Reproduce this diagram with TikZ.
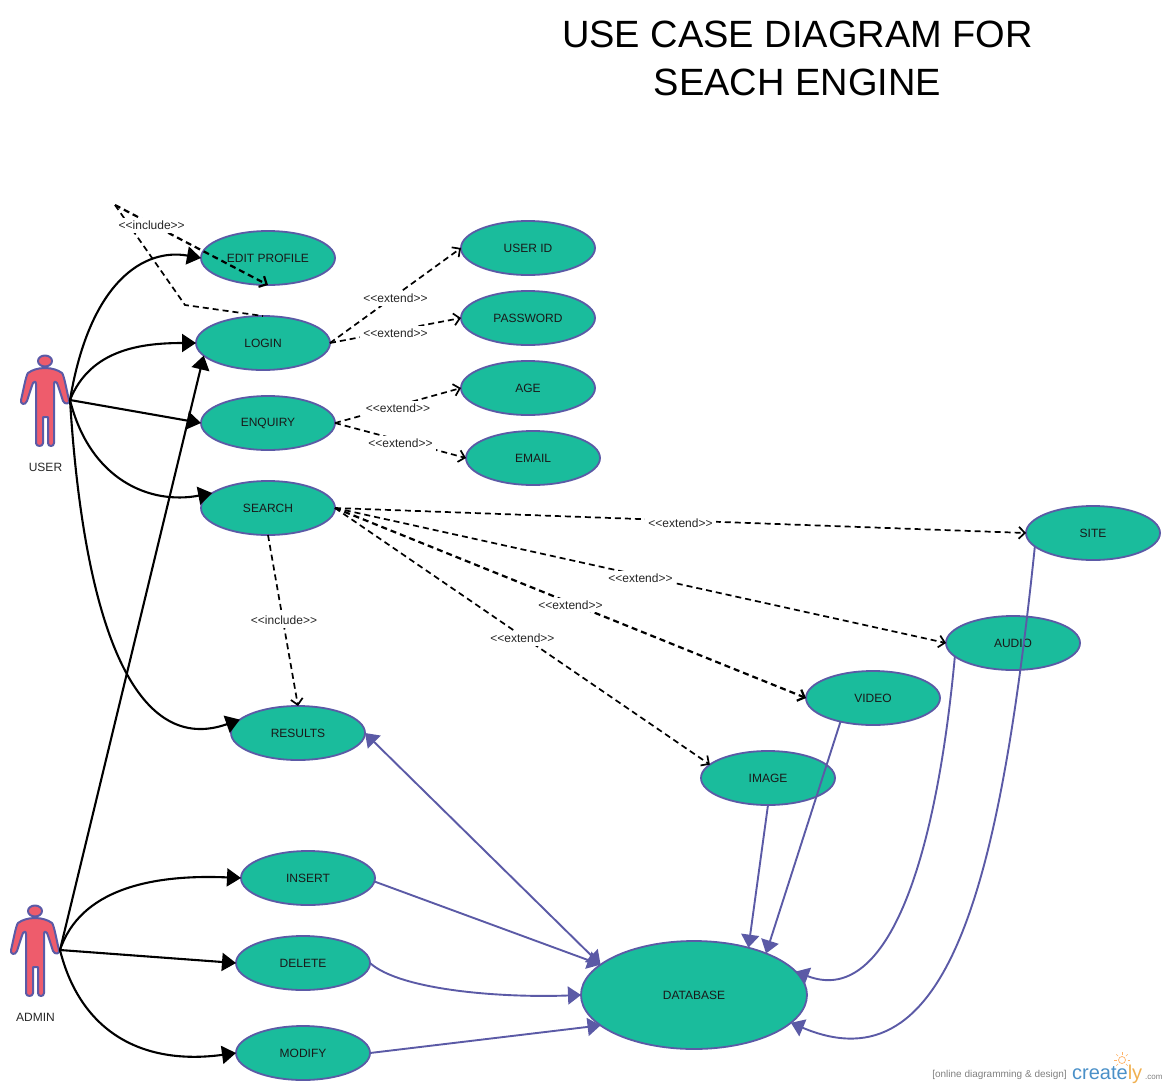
\documentclass[tikz,border=0pt]{standalone}
\usepackage{fontspec}
\setmainfont{Liberation Sans}
\usetikzlibrary{shapes.geometric,arrows.meta}
\definecolor{uc}{HTML}{1ABC9C}
\definecolor{edge}{HTML}{5B5AA6}
\definecolor{fig}{HTML}{EE5C6C}
\newcommand{\incl}{{<}{<}include{>}{>}}
\newcommand{\extd}{{<}{<}extend{>}{>}}
\tikzset{
  usecase/.style={ellipse,draw=edge,fill=uc,line width=1.8pt,minimum width=134pt,minimum height=54pt,inner sep=0pt,outer sep=0pt,font=\fontsize{12}{14}\selectfont,text=black!90},
  assoc/.style={draw=black,line width=2.1pt,-{Triangle[length=14pt,width=18pt]}},
  dep/.style={draw=black,line width=1.7pt,dash pattern=on 6pt off 4pt,-{Straight Barb[length=6pt,width=12pt]}},
  depbold/.style={dep,line width=2.2pt},
  dblink/.style={draw=edge,line width=1.9pt,-{Triangle[length=13pt,width=18pt]}},
  lab/.style={fill=white,inner sep=3pt,font=\fontsize{12}{14}\selectfont,text=black!85},
  actorlabel/.style={font=\fontsize{12}{14}\selectfont,text=black!85},
  actorbody/.style={draw=edge,fill=fig,line width=2pt,line join=round},
}
\newcommand{\actorfig}[1]{%
 \begin{scope}[shift={#1}]
  \path[actorbody] (0,-39) ellipse (7 and 5.5);
  \path[actorbody] (0,-32) .. controls (-7,-32) and (-13,-30) .. (-17,-27)
     .. controls (-19,-25) and (-22,-8) .. (-24,0) .. controls (-25,4) and (-20,6) .. (-18,1)
     .. controls (-16,-5) and (-14,-12) .. (-12,-17) .. controls (-11,-19) and (-9,-19) .. (-9,-16)
     -- (-9,43) .. controls (-9,47) and (-2,47) .. (-2,43) -- (-2,17) -- (3,17) -- (3,43)
     .. controls (3,47) and (9,47) .. (9,43) -- (9,-16) .. controls (9,-19) and (11,-19) .. (12,-17)
     .. controls (14,-12) and (16,-5) .. (18,1) .. controls (20,5) and (25,4) .. (24,0)
     .. controls (22,-8) and (19,-25) .. (17,-27) .. controls (13,-30) and (7,-32) .. (0,-32) -- cycle;
 \end{scope}}
\begin{document}
\begin{tikzpicture}[x=1pt,y=-1pt]
\useasboundingbox (0,0) rectangle (1170,1090);
\node[font=\fontsize{38}{48}\selectfont,align=center,text=black] (title) at (797.5,58) {USE CASE DIAGRAM FOR\\SEACH ENGINE};

\actorfig{(45,400)}
\actorfig{(35,950)}
\coordinate (user) at (70,400);
\coordinate (admin) at (60,950);
\coordinate (free) at (115,205);
\coordinate (bend) at (185,305);
\node[actorlabel] (userlab) at (45.5,467.5) {USER};
\node[actorlabel] (adminlab) at (35.5,1017.5) {ADMIN};

\node[usecase] (edit) at (268,258) {EDIT PROFILE};
\node[usecase] (login) at (263,343) {LOGIN};
\node[usecase] (enquiry) at (268,423) {ENQUIRY};
\node[usecase] (search) at (268,508) {SEARCH};
\node[usecase] (userid) at (528,248) {USER ID};
\node[usecase] (password) at (528,318) {PASSWORD};
\node[usecase] (age) at (528,388) {AGE};
\node[usecase] (email) at (533,458) {EMAIL};
\node[usecase] (site) at (1093,533) {SITE};
\node[usecase] (audio) at (1013,643) {AUDIO};
\node[usecase] (video) at (873,698) {VIDEO};
\node[usecase] (image) at (768,778) {IMAGE};
\node[usecase] (results) at (298,733) {RESULTS};
\node[usecase] (insert) at (308,878) {INSERT};
\node[usecase] (delete) at (303,963) {DELETE};
\node[usecase] (modify) at (303,1053) {MODIFY};
\node[usecase,minimum width=226pt,minimum height=108pt] (db) at (694,995) {DATABASE};

% actor associations
\draw[assoc] (user) .. controls (90,280) and (145,248) .. (edit.west);
\draw[assoc] (user) .. controls (90,350) and (140,343) .. (login.west);
\draw[assoc] (user) -- (enquiry.west);
\draw[assoc] (user) .. controls (90,480) and (150,505) .. (search.165);
\draw[assoc] (user) .. controls (85,640) and (140,755) .. (results.167);
\draw[assoc] (admin) -- (login.192);
\draw[assoc] (admin) .. controls (80,890) and (150,874) .. (insert.west);
\draw[assoc] (admin) -- (delete.west);
\draw[assoc] (admin) .. controls (80,1030) and (140,1066) .. (modify.west);

% dependencies
\draw[dep,-] (free) -- (bend) -- (login.north);
\draw[depbold] (free) -- node[lab,pos=.24,yshift=-1pt] {\incl} (edit.south);
\draw[dep] (login.east) -- node[lab,yshift=-3pt] {\extd} (userid.west);
\draw[dep] (login.east) -- node[lab,yshift=-3pt] {\extd} (password.west);
\draw[dep] (enquiry.east) -- node[lab,yshift=-3pt] {\extd} (age.west);
\draw[dep] (enquiry.east) -- node[lab,yshift=-3pt] {\extd} (email.west);
\draw[dep] (search.east) -- node[lab,yshift=-3pt] {\extd} (site.west);
\draw[dep] (search.east) -- node[lab,yshift=-3pt] {\extd} (audio.west);
\draw[depbold] (search.east) -- node[lab,yshift=-2pt] {\extd} (video.west);
\draw[dep] (search.east) -- node[lab,yshift=-2pt] {\extd} (image.167);
\draw[dep] (search.south) -- node[lab,xshift=1pt] {\incl} (results.north);

% database links
\draw[dblink,{Triangle[length=13pt,width=18pt]}-{Triangle[length=13pt,width=18pt]}] (results.east) -- (db.162);
\draw[dblink] (insert.-3) -- (db.162);
\draw[dblink] (delete.east) .. controls (400,990) and (500,998) .. (db.west);
\draw[dblink] (modify.east) -- (db.198);
\draw[dblink] (image.south) -- (db.41);
\draw[dblink] (video.216) -- (db.30);
\draw[dblink] (audio.193) .. controls (935,870) and (885,1006) .. (db.13.5);
\draw[dblink] (site.193) .. controls (1000,880) and (950,1090) .. (db.-16.5);

% watermark
\node[font=\fontsize{10}{12}\selectfont,text=black!50,anchor=east,inner sep=0pt] (wm) at (1067,1075) {[online diagramming \& design]};
\node[font=\fontsize{20}{24}\selectfont,anchor=west,inner sep=0pt] (logo) at (1072,1074) {\textcolor[HTML]{4A90C8}{create}\textcolor[HTML]{F0B050}{ly}};
\node[font=\fontsize{8}{10}\selectfont,text=black!50,anchor=west,inner sep=0pt] (com) at (1145,1077) {.com};
\draw[draw=orange!60,line width=.7pt] (1122,1060) circle (3.5);
\foreach \a in {0,45,135,180,225,315,270}{\draw[draw=orange!60,line width=.6pt] (1122,1060) ++(\a:5.5) -- ++(\a:2.5);}
\end{tikzpicture}
\end{document}
